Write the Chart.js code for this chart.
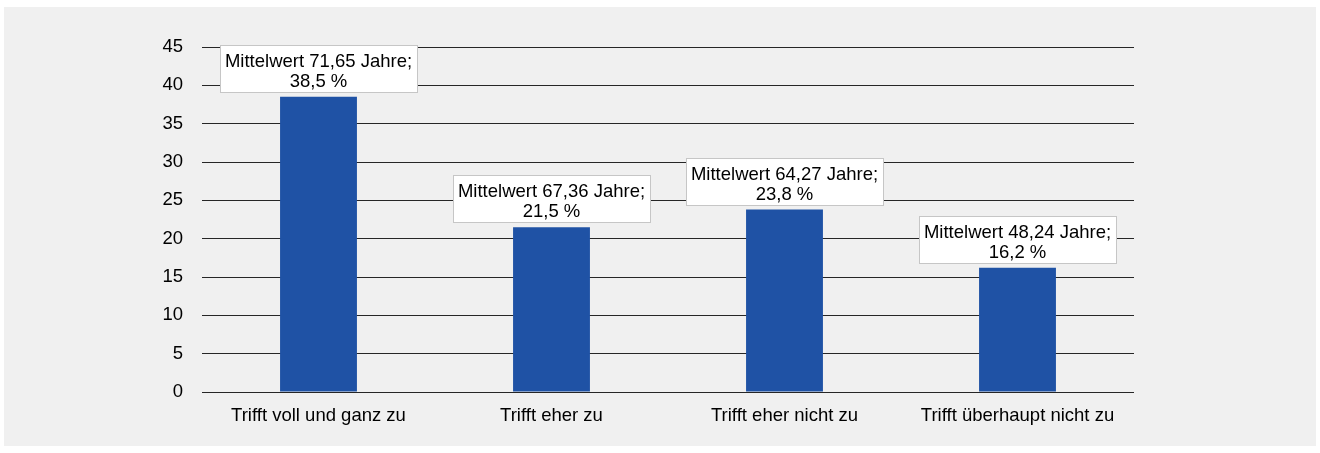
<!DOCTYPE html>
<html>
<head>
<meta charset="utf-8">
<script src="https://cdn.jsdelivr.net/npm/chart.js@4/dist/chart.umd.min.js"></script>
<style>
  html, body { margin: 0; padding: 0; background: #ffffff; }
  #panel {
    position: absolute; left: 4px; top: 7px;
    width: 1312px; height: 439px; background: #f0f0f0;
  }
  #chart { display: block; }
</style>
</head>
<body>
<div id="panel"><canvas id="chart" width="1312" height="439"></canvas></div>
<script>
const categories = ['Trifft voll und ganz zu', 'Trifft eher zu', 'Trifft eher nicht zu', 'Trifft überhaupt nicht zu'];
const shares = [38.5, 21.5, 23.8, 16.2];
const meanAges = [71.65, 67.36, 64.27, 48.24];
const yTicks = [0, 5, 10, 15, 20, 25, 30, 35, 40, 45];

const FONT = '"Liberation Sans", Arial, sans-serif';
const FONT_SIZE = 18.5;

function deNum(v, digits) {
  return v.toFixed(digits).replace('.', ',');
}

// white boxes above the bars
const boxLabels = {
  id: 'boxLabels',
  afterDatasetsDraw(chart) {
    const ctx = chart.ctx;
    const meta = chart.getDatasetMeta(0);
    ctx.save();
    ctx.font = FONT_SIZE + 'px ' + FONT;
    ctx.textAlign = 'center';
    ctx.textBaseline = 'alphabetic';
    meta.data.forEach((bar, i) => {
      const l1 = `Mittelwert ${deNum(meanAges[i], 2)} Jahre;`;
      const l2 = `${deNum(shares[i], 1)} %`;
      const w = Math.round(Math.max(ctx.measureText(l1).width, ctx.measureText(l2).width) + 10);
      const h = 47;
      const x = Math.round(bar.x - w / 2) + 0.5;
      const y = Math.round(bar.y - 5 - h) + 0.5;
      ctx.fillStyle = '#ffffff';
      ctx.fillRect(x, y, w, h);
      ctx.strokeStyle = '#c6c6c6';
      ctx.lineWidth = 1;
      ctx.strokeRect(x, y, w, h);
      ctx.fillStyle = '#000000';
      ctx.fillText(l1, bar.x, y + 21);
      ctx.fillText(l2, bar.x, y + 41);
    });
    ctx.restore();
  }
};

new Chart(document.getElementById('chart'), {
  type: 'bar',
  data: {
    labels: categories,
    datasets: [{
      data: shares,
      backgroundColor: '#1f52a5',
      barPercentage: 0.33,
      categoryPercentage: 1.0,
    }],
  },
  options: {
    responsive: false,
    animation: false,
    layout: { padding: { top: 40, right: 182, bottom: 0, left: 0 } },
    plugins: { legend: { display: false }, tooltip: { enabled: false } },
    scales: {
      x: {
        grid: { display: false, drawTicks: false },
        border: { display: false },
        ticks: { color: '#000', font: { family: FONT, size: FONT_SIZE }, padding: 13, maxRotation: 0 },
        afterFit(axis) { axis.height = 54; },
      },
      y: {
        min: 0,
        max: 45,
        afterBuildTicks(axis) { axis.ticks = yTicks.map((v) => ({ value: v })); },
        grid: { color: '#262626', lineWidth: 1, drawTicks: false },
        border: { display: false },
        ticks: { color: '#000', font: { family: FONT, size: FONT_SIZE }, padding: 19 },
        afterFit(axis) { axis.width = 198; },
      },
    },
  },
  plugins: [boxLabels],
});
</script>
</body>
</html>
